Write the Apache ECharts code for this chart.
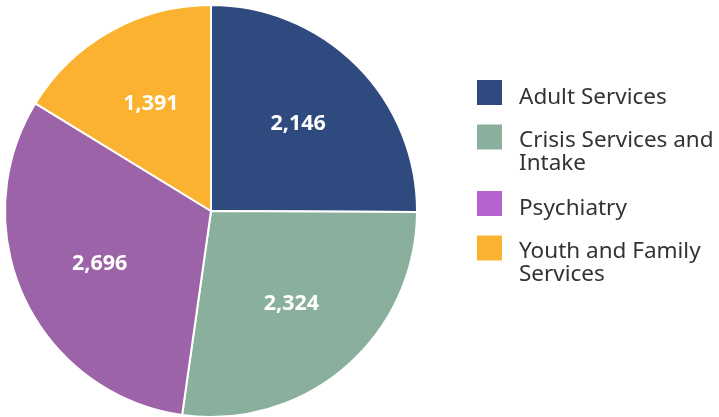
<!DOCTYPE html>
<html><head><meta charset="utf-8">
<script src="https://cdn.jsdelivr.net/npm/echarts@6/dist/echarts.min.js"></script>
<style>html,body{margin:0;padding:0;background:#fff}#c{width:719px;height:417px}</style>
</head><body><div id="c"></div>
<script>
const categories = ['Adult Services', 'Crisis Services and\nIntake', 'Psychiatry', 'Youth and Family\nServices'];
const values = [2146, 2324, 2696, 1391];
const sliceColors = ['#2F4A7E', '#8AB09D', '#9C63A8', '#FBB231'];
const legendColors = ['#2F4A7E', '#8AB09D', '#B362CF', '#FBB231'];
const legendTops = [80, 124.5, 191, 235.5];

const chart = echarts.init(document.getElementById('c'));
const data = categories.map((n, i) => ({ name: n, value: values[i], itemStyle: { color: sliceColors[i] } }));
const legends = categories.map((n, i) => {
  const twoLine = n.indexOf('\n') >= 0;
  return {
    left: 477, top: legendTops[i], padding: 0, orient: 'vertical',
    itemWidth: 25, itemHeight: 25, icon: 'rect', selectedMode: false,
    itemStyle: { borderWidth: 0 },
    data: [{ name: n, itemStyle: { color: legendColors[i], borderWidth: 0 } }],
    formatter: name => name.split('\n').map(s => '{t|' + s + '}').join('\n'),
    textStyle: {
      padding: twoLine ? [30, 0, 0, 12] : [10, 0, 0, 12],
      rich: { t: { fontFamily: 'Noto Sans', fontSize: 22.5, lineHeight: 23, color: '#333' } }
    }
  };
});
chart.setOption({
  animation: false,
  legend: legends,
  series: [
    { type: 'pie', center: [211, 211], radius: [0, 206], startAngle: 90, clockwise: true,
      silent: true, label: { show: false }, labelLine: { show: false },
      itemStyle: { borderColor: '#fff', borderWidth: 2 }, data: data },
    { type: 'pie', center: [211, 211], radius: [34, 206], startAngle: 90, clockwise: true,
      silent: true, legendHoverLink: false,
      itemStyle: { color: 'rgba(0,0,0,0)', borderWidth: 0 },
      label: { show: true, position: 'inside', color: '#fff', fontFamily: 'Noto Sans', fontWeight: 'bold', fontSize: 21.5,
        formatter: p => p.value.toLocaleString('en-US') },
      labelLine: { show: false },
      data: categories.map((n, i) => ({ name: n + ' ', value: values[i] })) }
  ]
});
</script></body></html>
